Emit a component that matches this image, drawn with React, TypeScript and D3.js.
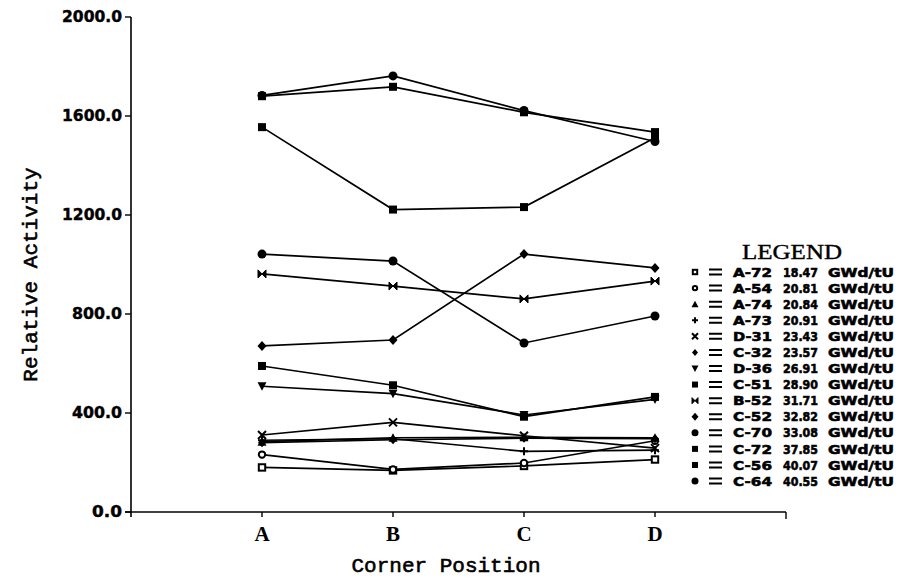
import React from "react";
import * as d3 from "d3";

const positions = ["A", "B", "C", "D"];
const yTicks = [0, 400, 800, 1200, 1600, 2000];

const seriesNames = ["A-72", "A-54", "A-74", "A-73", "D-31", "C-32", "D-36", "C-51", "B-52", "C-52", "C-70", "C-72", "C-56", "C-64"];
const burnups = ["18.47", "20.81", "20.84", "20.91", "23.43", "23.57", "26.91", "28.90", "31.71", "32.82", "33.08", "37.85", "40.07", "40.55"];
const markerShapes = ["squareOpen", "circleOpen", "triangle", "plus", "cross", "diamond", "triangleDown", "square", "bowtie", "diamondFilled", "circle", "squareX", "square", "circle"];

const vA72 = [180, 168, 186, 212];
const vA54 = [232, 172, 198, 288];
const vA74 = [284, 300, 302, 300];
const vA73 = [290, 296, 245, 250];
const vD31 = [311, 362, 308, 258];
const vC32 = [280, 292, 298, 296];
const vD36 = [508, 478, 392, 455];
const vC51 = [590, 512, 385, 465];
const vB52 = [962, 913, 861, 933];
const vC52 = [671, 695, 1042, 986];
const vC70 = [1042, 1014, 683, 792];
const vC72 = [1555, 1222, 1232, 1512];
const vC56 = [1680, 1718, 1615, 1535];
const vC64 = [1683, 1762, 1622, 1497];

const seriesValues = [vA72, vA54, vA74, vA73, vD31, vC32, vD36, vC51, vB52, vC52, vC70, vC72, vC56, vC64];

function Marker({ shape, x, y, s }: { shape: string; x: number; y: number; s: number }) {
  const h = s / 2;
  const sw = 1.6;
  switch (shape) {
    case "squareOpen":
      return <rect x={x - h + 0.8} y={y - h + 0.8} width={s - 1.6} height={s - 1.6} fill="white" stroke="black" strokeWidth={sw + 0.4} />;
    case "circleOpen":
      return <circle cx={x} cy={y} r={h - 0.8} fill="white" stroke="black" strokeWidth={sw + 0.4} />;
    case "triangle":
      return <path d={`M${x},${y - h - 0.5}L${x + h + 0.5},${y + h}L${x - h - 0.5},${y + h}Z`} fill="black" />;
    case "triangleDown":
      return <path d={`M${x},${y + h + 0.5}L${x + h + 0.5},${y - h}L${x - h - 0.5},${y - h}Z`} fill="black" />;
    case "plus":
      return <path d={`M${x - h},${y}H${x + h}M${x},${y - h}V${y + h}`} stroke="black" strokeWidth={2} />;
    case "cross":
      return <path d={`M${x - h},${y - h}L${x + h},${y + h}M${x - h},${y + h}L${x + h},${y - h}`} stroke="black" strokeWidth={2} />;
    case "diamond":
      return <path d={`M${x},${y - h - 0.5}L${x + h},${y}L${x},${y + h + 0.5}L${x - h},${y}Z`} fill="black" />;
    case "diamondFilled":
      return <path d={`M${x},${y - h - 1}L${x + h + 0.5},${y}L${x},${y + h + 1}L${x - h - 0.5},${y}Z`} fill="black" />;
    case "bowtie":
      return <path d={`M${x - h},${y - h}L${x + h},${y + h}V${y - h}L${x - h},${y + h}Z`} fill="black" stroke="black" strokeWidth={1} />;
    case "square":
      return <rect x={x - h} y={y - h} width={s} height={s} fill="black" />;
    case "squareX":
      return <rect x={x - h} y={y - h} width={s} height={s} fill="black" />;
    case "circle":
    default:
      return <circle cx={x} cy={y} r={h + 0.5} fill="black" />;
  }
}

export default function App() {
  const width = 899;
  const height = 578;
  const x = d3.scaleLinear().domain([-1, 4]).range([131, 786]);
  const y = d3.scaleLinear().domain([0, 2000]).range([512, 17]);
  const line = d3
    .line<number>()
    .x((_, i) => x(i))
    .y((v) => y(v));

  const legendX = 695;
  const legendY0 = 272;
  const legendDy = 16.08;
  const heavy = { fontFamily: "DejaVu Sans", fontWeight: "bold" as const, stroke: "black", strokeWidth: 0.6 };

  return (
    <svg width={width} height={height} style={{ position: "absolute", left: 0, top: 0, background: "white" }}>
      <rect x={0} y={0} width={width} height={height} fill="white" />
      {/* axes */}
      <line x1={x(-1)} x2={x(-1)} y1={y(2000)} y2={y(0) + 5} stroke="black" strokeWidth={1.6} />
      <line x1={x(-1) - 6} x2={x(4)} y1={y(0)} y2={y(0)} stroke="black" strokeWidth={1.6} />
      {yTicks.map((t) => {
        const label = t.toFixed(1);
        return (
          <g key={t}>
            <line x1={x(-1) - 6} x2={x(-1)} y1={y(t)} y2={y(t)} stroke="black" strokeWidth={1.4} />
            <text
              x={x(-1) - 9}
              y={y(t)}
              dy="0.36em"
              textAnchor="end"
              {...heavy}
              strokeWidth={0.4}
              fontSize={15}
              textLength={label.length * 10}
              lengthAdjust="spacingAndGlyphs"
            >
              {label}
            </text>
          </g>
        );
      })}
      {positions.map((p, i) => (
        <g key={p}>
          <line x1={x(i)} x2={x(i)} y1={y(0)} y2={y(0) + 5} stroke="black" strokeWidth={1.4} />
          <text x={x(i)} y={y(0) + 22} dy="0.35em" textAnchor="middle" fontFamily="Liberation Serif" fontWeight="bold" fontSize={21}>
            {p}
          </text>
        </g>
      ))}
      <line x1={x(4)} x2={x(4)} y1={y(0)} y2={y(0) + 7} stroke="black" strokeWidth={1.4} />
      <text
        transform={`translate(30,${(y(0) + y(2000)) / 2 + 10}) rotate(-90)`}
        textAnchor="middle"
        dy="0.35em"
        fontFamily="Liberation Mono"
        fontSize={21}
        stroke="black"
        strokeWidth={0.6}
      >
        Relative Activity
      </text>
      <text x={446} y={565} dy="0.35em" textAnchor="middle" fontFamily="Liberation Mono" fontSize={21} stroke="black" strokeWidth={0.6}>
        Corner Position
      </text>

      {/* series */}
      {seriesValues.map((vals, si) => (
        <path key={"l" + si} d={line(vals) || ""} fill="none" stroke="black" strokeWidth={1.7} />
      ))}
      {seriesValues.map((vals, si) =>
        vals.map((v, i) => <Marker key={`m${si}-${i}`} shape={markerShapes[si]} x={x(i)} y={y(v)} s={8} />)
      )}

      {/* legend */}
      <text x={742} y={259} fontFamily="Liberation Serif" fontSize={22} stroke="black" strokeWidth={0.4} textLength={100} lengthAdjust="spacingAndGlyphs">
        LEGEND
      </text>
      {seriesNames.map((name, i) => {
        const cy = legendY0 + i * legendDy;
        return (
          <g key={name + i}>
            <Marker shape={markerShapes[i]} x={legendX} y={cy} s={6} />
            <path d={`M709,${cy - 2.5}H722M709,${cy + 2.5}H722`} stroke="black" strokeWidth={2} />
            <text x={733} y={cy} dy="0.36em" {...heavy} fontSize={13} textLength={39} lengthAdjust="spacingAndGlyphs">
              {name}
            </text>
            <text x={783} y={cy} dy="0.36em" {...heavy} fontSize={13} textLength={35} lengthAdjust="spacingAndGlyphs">
              {burnups[i]}
            </text>
            <text x={828} y={cy} dy="0.36em" {...heavy} fontSize={13} textLength={66} lengthAdjust="spacingAndGlyphs">
              GWd/tU
            </text>
          </g>
        );
      })}
    </svg>
  );
}
